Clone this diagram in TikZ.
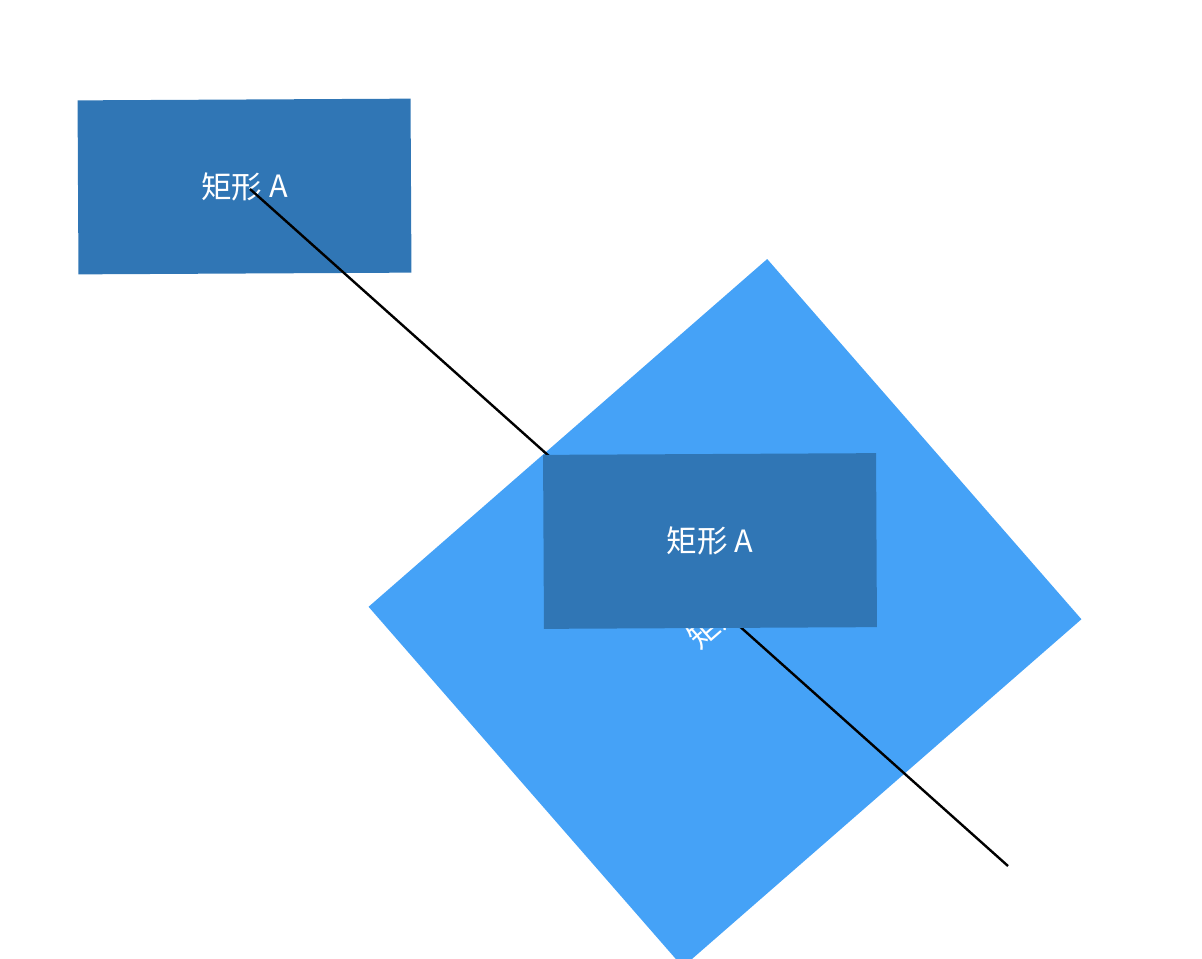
\documentclass[tikz,border=0pt]{standalone}
\usepackage{fontspec}
\setmainfont{Noto Sans CJK SC}
\usepackage{xcolor}
\definecolor{rectblue}{HTML}{3076B5}
\definecolor{tiltblue}{HTML}{45A2F7}

\tikzset{
	shapetext/.style={text=white, font=\fontsize{23}{27}\selectfont, inner sep=0pt},
	rectA/.style={shapetext, fill=rectblue, minimum width=249.75pt, minimum height=130.5pt, rotate=0.3},
	tiltrect/.style={shapetext, fill=tiltblue, minimum width=396.75pt, minimum height=358.5pt, rotate=41.1}
}

\begin{document}
\begin{tikzpicture}[x=0.75pt,y=-0.75pt]
	\useasboundingbox (0,0) rectangle (1202,958);
	\clip (0,0) rectangle (1202,958);
	
	%rotated copy
	\node[tiltrect] (tilted) at (725,613) {矩形 A};
	
	%first rectangle
	\node[rectA] (first) at (244.5,186.5) {矩形 A};
	
	\coordinate (start) at (250,189);
	\coordinate (finish) at (1008,866);
	\draw[line width=1.8pt] (start) -- (finish);
	
	%second rectangle
	\node[rectA] (second) at (710,541) {矩形 A};
	
\end{tikzpicture}
\end{document}
